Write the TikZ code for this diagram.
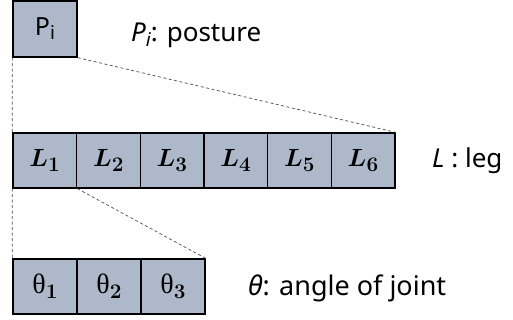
\documentclass[tikz,border=0pt]{standalone}
\usepackage[no-math]{fontspec}
\usepackage{bm}
\setmainfont{Noto Sans}
\newfontfamily\grk{Liberation Serif}
\definecolor{cellfill}{HTML}{ADB9CA}
\begin{document}
\begin{tikzpicture}[x=1pt,y=-1pt,
  cell/.style={draw=black,fill=cellfill,line width=1.3pt,minimum width=63.67pt,minimum height=55pt,inner sep=0pt,font=\fontsize{28}{32}\selectfont},
  link/.style={draw=black!70,dashed,line width=0.7pt,dash pattern=on 3pt off 2.5pt},
  lbl/.style={anchor=base west,inner sep=0pt,font=\fontsize{26}{30}\selectfont}]
\useasboundingbox (0,0) rectangle (513,320);
% posture
\node[cell,minimum width=64pt,minimum height=56pt,font=\fontsize{25}{28}\selectfont] (P) at (45,29) {P\raisebox{-0.3ex}{\fontsize{19}{20}\selectfont i}};
% legs
\foreach \k in {1,...,6}{
  \node[cell] (L\k) at ({13+31.83+(\k-1)*63.67},160.5) {$\bm{L}_{\bm{\k}}$};
}
% joints
\foreach \k in {1,2,3}{
  \node[cell,minimum width=64pt] (T\k) at ({45+(\k-1)*64},286.5) {{\grk θ}\raisebox{-0.35ex}{\fontsize{20}{22}\selectfont$\bm{\k}$}};
}
% dashed links
\draw[link] (P.south west) -- (L1.north west);
\draw[link] (P.south east) -- (L6.north east);
\draw[link] (L1.south west) -- (T1.north west);
\draw[link] (L1.south east) -- (T3.north east);
% labels
\node[lbl] (tp) at (131,42) {\textit{P\raisebox{-0.3ex}{\fontsize{19}{22}\selectfont i}}: posture};
\node[lbl] (tl) at (432,168) {\textit{L} : leg};
\node[lbl,font=\fontsize{27}{30}\selectfont] (tt) at (248,295) {\textit{θ}: angle of joint};
\end{tikzpicture}
\end{document}
